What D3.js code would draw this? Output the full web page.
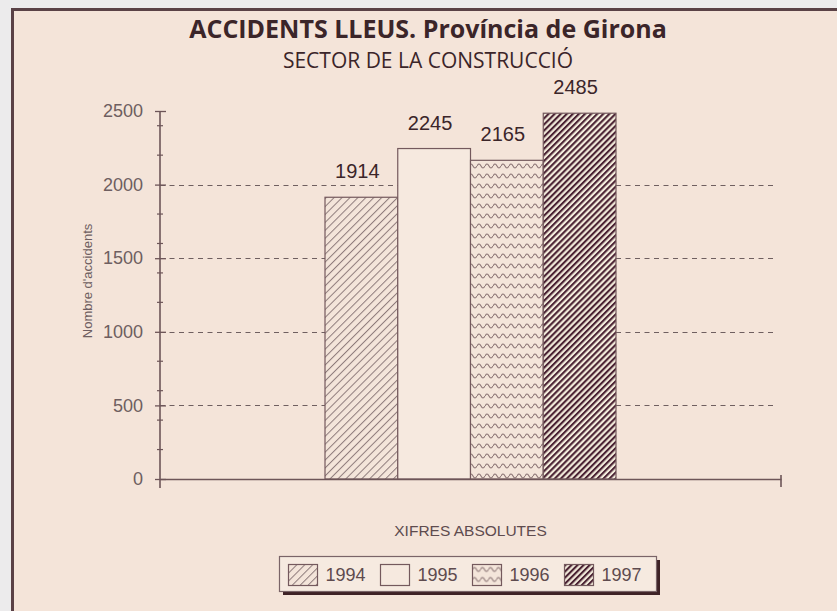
<!DOCTYPE html>
<html>
<head>
<meta charset="utf-8">
<script src="https://cdn.jsdelivr.net/npm/d3@7"></script>
<style>
  body { margin: 0; background: #ecebec; }
  svg { display: block; }
</style>
</head>
<body>
<div id="chart"></div>
<script>
// chart data
var years = ["1994", "1995", "1996", "1997"];
var values = [1914, 2245, 2165, 2485];
var category = ["XIFRES ABSOLUTES"];
var yTicks = [0, 500, 1000, 1500, 2000, 2500];
var title = "ACCIDENTS LLEUS. Província de Girona";
var subtitle = "SECTOR DE LA CONSTRUCCIÓ";
var yLabel = "Nombre d'accidents";

var svgWidth = 837, svgHeight = 611;
var margin = {top: 111, right: 56, bottom: 132, left: 160};
var width = svgWidth - margin.left - margin.right;
var height = svgHeight - margin.top - margin.bottom;

var ink = "#3b2529", axisCol = "#6d5558", gridCol = "#6f5f60";

var svg = d3.select("#chart").append("svg")
  .attr("width", svgWidth)
  .attr("height", svgHeight);

// patterns for each year
var defs = svg.append("defs");

var p94 = defs.append("pattern").attr("id", "pat1994")
  .attr("patternUnits", "userSpaceOnUse")
  .attr("width", 5.6).attr("height", 5.6)
  .attr("patternTransform", "rotate(45)");
p94.append("rect").attr("width", 5.6).attr("height", 5.6).attr("fill", "#f4e5da");
p94.append("line").attr("x1", 0.5).attr("x2", 0.5).attr("y1", 0).attr("y2", 5.6)
  .attr("stroke", "#8e7b7b").attr("stroke-width", 1);

var p95 = defs.append("pattern").attr("id", "pat1995")
  .attr("patternUnits", "userSpaceOnUse")
  .attr("width", 4).attr("height", 4);
p95.append("rect").attr("width", 4).attr("height", 4).attr("fill", "#f6e9df");

var p96 = defs.append("pattern").attr("id", "pat1996")
  .attr("patternUnits", "userSpaceOnUse")
  .attr("width", 8).attr("height", 10);
p96.append("rect").attr("width", 8).attr("height", 10).attr("fill", "#f4e5da");
p96.append("path").attr("d", "M0,5 Q2,1 4,5 T8,5")
  .attr("fill", "none").attr("stroke", "#8d7676").attr("stroke-width", 1.1);

var p97 = defs.append("pattern").attr("id", "pat1997")
  .attr("patternUnits", "userSpaceOnUse")
  .attr("width", 4.3).attr("height", 4.3)
  .attr("patternTransform", "rotate(45)");
p97.append("rect").attr("width", 4.3).attr("height", 4.3).attr("fill", "#f3ecdc");
p97.append("rect").attr("x", 0).attr("width", 2.1).attr("height", 4.3).attr("fill", "#4a2233");

var fills = d3.scaleOrdinal().domain(years)
  .range(["url(#pat1994)", "url(#pat1995)", "url(#pat1996)", "url(#pat1997)"]);

// panel
svg.append("rect")
  .attr("x", 12.5).attr("y", 9.5)
  .attr("width", svgWidth + 20).attr("height", svgHeight + 20)
  .attr("fill", "#f4e4d9")
  .attr("stroke", "#5a4146").attr("stroke-width", 3);

// titles
svg.append("text")
  .attr("x", 428).attr("y", 38)
  .attr("text-anchor", "middle")
  .style("font-family", "'Open Sans', sans-serif")
  .style("font-weight", "bold")
  .style("font-size", "25px")
  .style("fill", ink)
  .text(title);

svg.append("text")
  .attr("x", 428).attr("y", 68)
  .attr("text-anchor", "middle")
  .style("font-family", "'Open Sans', sans-serif")
  .style("font-size", "21px")
  .style("fill", ink)
  .text(subtitle);

var chartGroup = svg.append("g")
  .attr("transform", `translate(${margin.left}, ${margin.top})`);

// scales
var x0 = d3.scaleBand().domain(category).range([0, width]).paddingOuter(0.567);
var x1 = d3.scaleBand().domain(years).range([0, x0.bandwidth()]).padding(0);
var y = d3.scaleLinear().domain([0, 2500]).range([height, 0]);

// dashed gridlines
chartGroup.append("g")
  .selectAll("line")
  .data(yTicks.filter(d => d > 0 && d < 2500))
  .enter()
  .append("line")
  .attr("x1", 0).attr("x2", width - 6)
  .attr("y1", d => Math.round(y(d)) + 0.5)
  .attr("y2", d => Math.round(y(d)) + 0.5)
  .attr("stroke", gridCol)
  .attr("stroke-width", 1.2)
  .attr("stroke-dasharray", "5,4.5");

// bars
var group = chartGroup.append("g")
  .attr("transform", `translate(${x0(category[0])}, 0)`);

group.selectAll("rect")
  .data(values)
  .enter()
  .append("rect")
  .attr("x", (d, i) => x1(years[i]))
  .attr("y", d => y(d))
  .attr("width", x1.bandwidth())
  .attr("height", d => height - y(d))
  .attr("fill", (d, i) => fills(years[i]))
  .attr("stroke", "#74595d")
  .attr("stroke-width", 1.2);

group.selectAll("text")
  .data(values)
  .enter()
  .append("text")
  .attr("x", (d, i) => x1(years[i]) + x1.bandwidth() / 2 - 4)
  .attr("y", d => y(d) - 19)
  .attr("text-anchor", "middle")
  .style("font-family", "'Liberation Sans', Arial, sans-serif")
  .style("font-size", "20px")
  .style("fill", ink)
  .text(d => d);

// y axis
var leftAxis = d3.axisLeft(y)
  .tickValues(yTicks)
  .tickFormat(d3.format("d"))
  .tickSizeInner(5)
  .tickSizeOuter(0)
  .tickPadding(12);

var yAxisG = chartGroup.append("g").call(leftAxis);
yAxisG.select(".domain").remove();
yAxisG.selectAll(".tick line").attr("stroke", axisCol).attr("stroke-width", 1.3);
yAxisG.selectAll(".tick").append("line")
  .attr("x1", 0).attr("x2", 6)
  .attr("stroke", axisCol).attr("stroke-width", 1.3);
yAxisG.selectAll("text")
  .style("font-family", "'Liberation Sans', Arial, sans-serif")
  .style("font-size", "18px")
  .style("fill", "#6e5e60");

// minor ticks
chartGroup.append("g")
  .selectAll("line")
  .data(y.ticks(10).filter(d => yTicks.indexOf(d) < 0))
  .enter()
  .append("line")
  .attr("x1", -3).attr("x2", 3)
  .attr("y1", d => y(d)).attr("y2", d => y(d))
  .attr("stroke", axisCol).attr("stroke-width", 1.2);

chartGroup.append("line")
  .attr("x1", 0).attr("x2", 0)
  .attr("y1", 0).attr("y2", height + 9)
  .attr("stroke", axisCol).attr("stroke-width", 1.6);

// x axis
var bottomAxis = d3.axisBottom(x0).tickSizeInner(0).tickSizeOuter(0).tickPadding(46);
var xAxisG = chartGroup.append("g")
  .attr("transform", `translate(0, ${height})`)
  .call(bottomAxis);
xAxisG.select(".domain").attr("stroke", axisCol).attr("stroke-width", 1.6);
xAxisG.selectAll("text")
  .style("font-family", "'Liberation Sans', Arial, sans-serif")
  .style("font-size", "15.5px")
  .style("fill", "#5e4b4e");

chartGroup.append("line")
  .attr("x1", width).attr("x2", width)
  .attr("y1", height - 4).attr("y2", height + 8)
  .attr("stroke", axisCol).attr("stroke-width", 1.6);

// y label
svg.append("text")
  .attr("transform", "translate(92, 281) rotate(-90)")
  .attr("text-anchor", "middle")
  .style("font-family", "'Liberation Sans', Arial, sans-serif")
  .style("font-size", "13px")
  .style("fill", "#6e5e60")
  .text(yLabel);

// legend
var legend = svg.append("g").attr("transform", "translate(279, 556)");
legend.append("rect")
  .attr("x", 4).attr("y", 4).attr("width", 377).attr("height", 35)
  .attr("fill", "#3e2226");
legend.append("rect")
  .attr("x", 0.5).attr("y", 0.5).attr("width", 377).attr("height", 35)
  .attr("fill", "#f6eae0")
  .attr("stroke", "#7a6468").attr("stroke-width", 1.2);

var items = legend.selectAll(".item")
  .data(years)
  .enter()
  .append("g")
  .attr("class", "item")
  .attr("transform", (d, i) => `translate(${9.5 + i * 92}, 8.5)`);

items.append("rect")
  .attr("width", 29).attr("height", 21)
  .attr("fill", d => fills(d))
  .attr("stroke", "#74595d").attr("stroke-width", 1.2);

items.append("text")
  .attr("x", 37).attr("y", 16.5)
  .style("font-family", "'Liberation Sans', Arial, sans-serif")
  .style("font-size", "18px")
  .style("fill", "#5e4b4e")
  .text(d => d);
</script>
</body>
</html>
